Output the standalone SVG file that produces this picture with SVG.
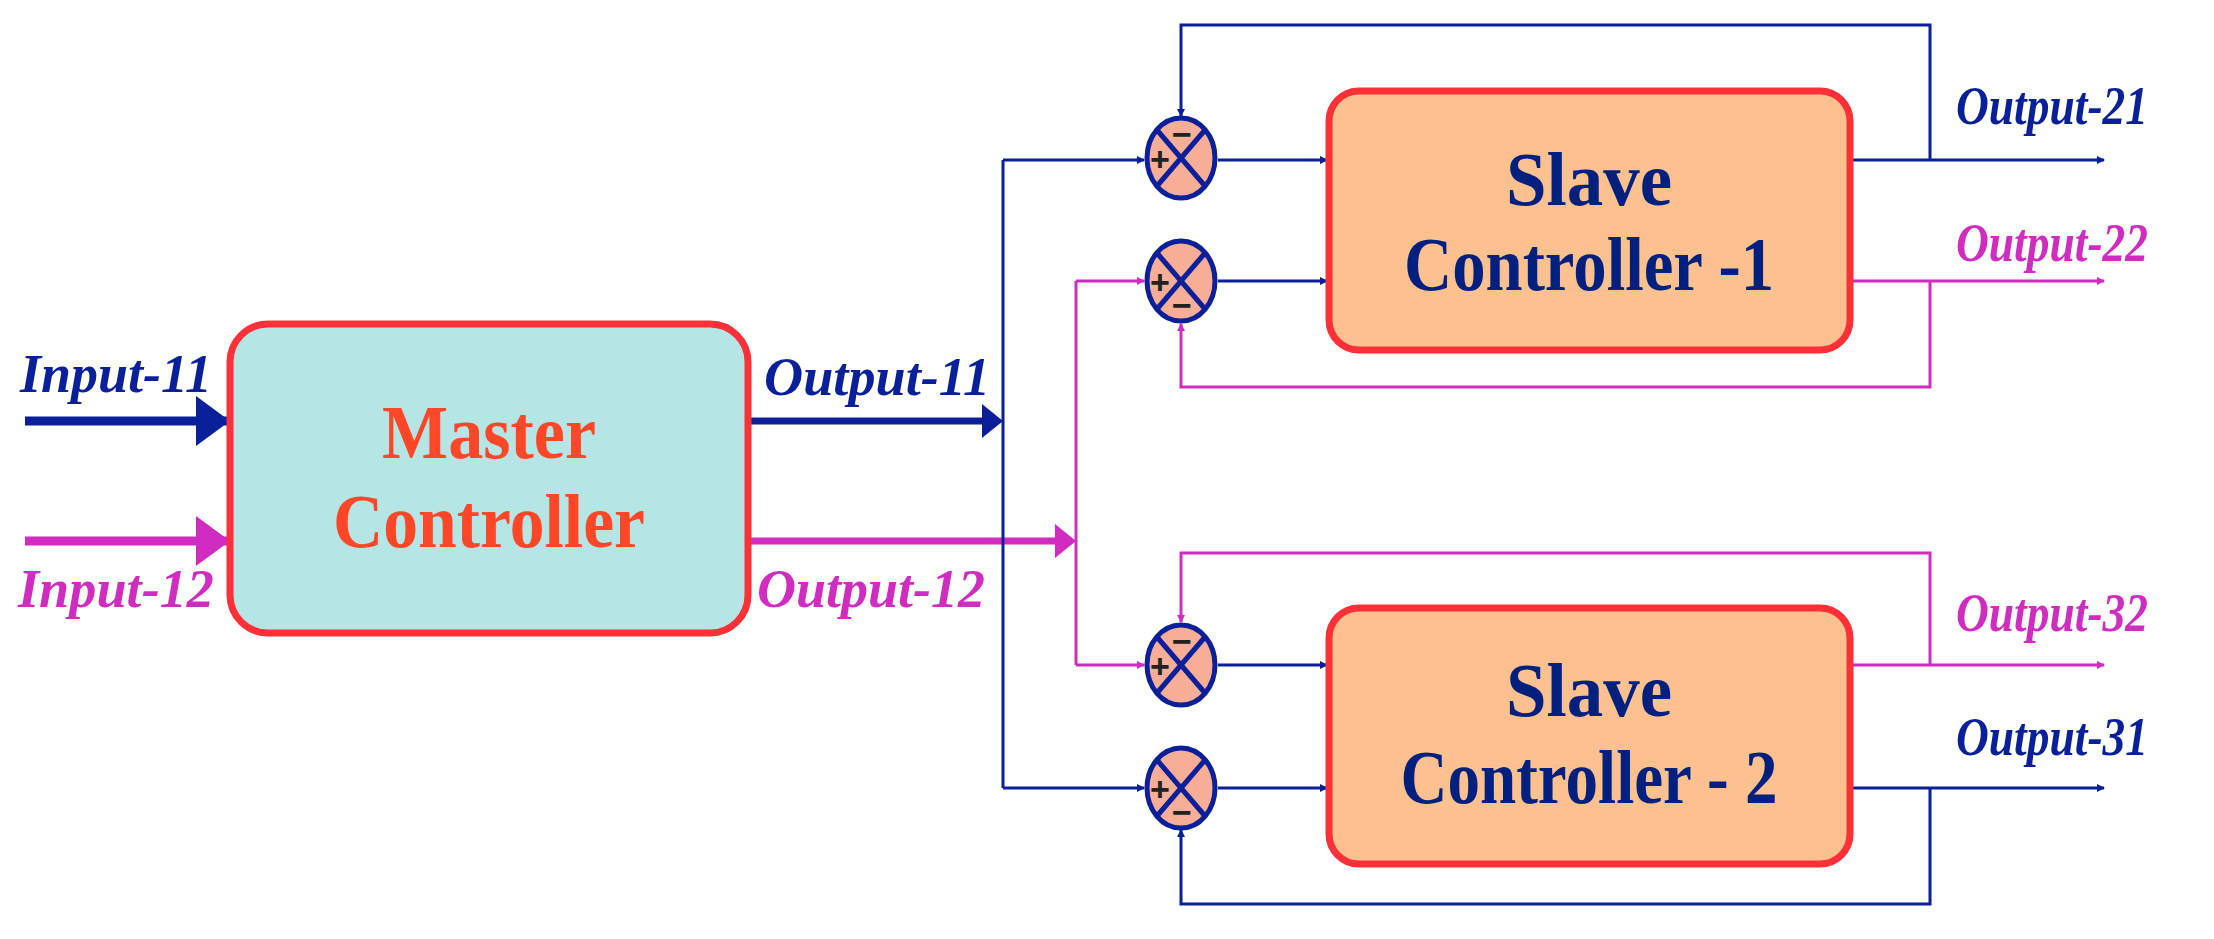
<svg xmlns="http://www.w3.org/2000/svg" width="2214" height="939" viewBox="0 0 2214 939">
<defs>
<style>
.b{stroke:#0a1f9a;fill:none;stroke-width:3}
.m{stroke:#d02cc0;fill:none;stroke-width:3}
.lab{font-family:"Liberation Serif",serif;font-style:italic;font-weight:bold;font-size:54px}
.box{stroke:#ff3038;stroke-width:7}
.big{font-family:"Liberation Serif",serif;font-weight:bold;font-size:76px;text-anchor:middle}
.sum{fill:#f8ad96;stroke:#0a1f9a;stroke-width:5}
.sx{stroke:#0a1f9a;stroke-width:5}
.sg{font-family:"Liberation Sans",sans-serif;font-weight:bold;font-size:34px;fill:#222;text-anchor:middle}
</style>
<marker id="ab" markerWidth="8" markerHeight="8" refX="7" refY="4" orient="auto" markerUnits="userSpaceOnUse" viewBox="0 0 8 8"><path d="M0,0L8,4L0,8z" fill="#0a1f9a"/></marker>
<marker id="am" markerWidth="8" markerHeight="8" refX="7" refY="4" orient="auto" markerUnits="userSpaceOnUse" viewBox="0 0 8 8"><path d="M0,0L8,4L0,8z" fill="#d02cc0"/></marker>
</defs>
<g id="connectors">
<path d="M25,421H228" stroke="#0a1f9a" stroke-width="9"/><path d="M196,396L230,421L196,446z" fill="#0a1f9a"/>
<path d="M25,541H228" stroke="#d02cc0" stroke-width="9"/><path d="M196,516L230,541L196,566z" fill="#d02cc0"/>
<path d="M750,421H985" stroke="#0a1f9a" stroke-width="7"/><path d="M982,404L1003,421L982,438z" fill="#0a1f9a"/>
<path d="M750,541H1058" stroke="#d02cc0" stroke-width="7"/><path d="M1055,524L1076,541L1055,558z" fill="#d02cc0"/>
<path class="b" d="M1003,160V788"/>
<path class="b" d="M1003,160H1144" marker-end="url(#ab)" style="marker-end:url(#ab)"/>
<path class="b" d="M1003,788H1144" style="marker-end:url(#ab)"/>
<path class="m" d="M1076,281V665"/>
<path class="m" d="M1076,281H1144" style="marker-end:url(#am)"/>
<path class="m" d="M1076,665H1144" style="marker-end:url(#am)"/>
<path class="b" d="M1218,160H1327" style="marker-end:url(#ab)"/>
<path class="b" d="M1218,281H1327" style="marker-end:url(#ab)"/>
<path class="b" d="M1218,665H1327" style="marker-end:url(#ab)"/>
<path class="b" d="M1218,788H1327" style="marker-end:url(#ab)"/>
<path class="b" d="M1853,160H2104" style="marker-end:url(#ab)"/>
<path class="b" d="M1930,160V25H1181V116" style="marker-end:url(#ab)"/>
<path class="m" d="M1853,281H2104" style="marker-end:url(#am)"/>
<path class="m" d="M1930,281V387H1181V324" style="marker-end:url(#am)"/>
<path class="m" d="M1853,665H2104" style="marker-end:url(#am)"/>
<path class="m" d="M1930,665V553H1181V622" style="marker-end:url(#am)"/>
<path class="b" d="M1853,788H2104" style="marker-end:url(#ab)"/>
<path class="b" d="M1930,788V904H1181V830" style="marker-end:url(#ab)"/>
</g>
<g id="master">
<rect class="box" x="230" y="324" width="518" height="309" rx="38" fill="#b5e5e5"/>
<text class="big" x="489" y="458" fill="#ff4626" textLength="214" lengthAdjust="spacingAndGlyphs">Master</text>
<text class="big" x="489" y="547" fill="#ff4626" textLength="312" lengthAdjust="spacingAndGlyphs">Controller</text>
</g>
<g id="slave1">
<rect class="box" x="1329" y="91" width="521" height="259" rx="30" fill="#fdc190"/>
<text class="big" x="1589" y="205" fill="#00207f" textLength="166" lengthAdjust="spacingAndGlyphs">Slave</text>
<text class="big" x="1589" y="290" fill="#00207f" textLength="370" lengthAdjust="spacingAndGlyphs">Controller -1</text>
</g>
<g id="slave2">
<rect class="box" x="1329" y="608" width="521" height="256" rx="30" fill="#fdc190"/>
<text class="big" x="1589" y="716" fill="#00207f" textLength="166" lengthAdjust="spacingAndGlyphs">Slave</text>
<text class="big" x="1589" y="803" fill="#00207f" textLength="377" lengthAdjust="spacingAndGlyphs">Controller - 2</text>
</g>
<g id="sum1"><ellipse class="sum" cx="1181" cy="158" rx="34" ry="40"/><path class="sx" d="M1157,130L1205,186M1205,130L1157,186"/><text class="sg" x="1160" y="171">+</text><text class="sg" x="1182" y="146">−</text></g>
<g id="sum2"><ellipse class="sum" cx="1181" cy="281" rx="34" ry="40"/><path class="sx" d="M1157,253L1205,309M1205,253L1157,309"/><text class="sg" x="1160" y="294">+</text><text class="sg" x="1182" y="317">−</text></g>
<g id="sum3"><ellipse class="sum" cx="1181" cy="665" rx="34" ry="40"/><path class="sx" d="M1157,637L1205,693M1205,637L1157,693"/><text class="sg" x="1160" y="678">+</text><text class="sg" x="1182" y="653">−</text></g>
<g id="sum4"><ellipse class="sum" cx="1181" cy="788" rx="34" ry="40"/><path class="sx" d="M1157,760L1205,816M1205,760L1157,816"/><text class="sg" x="1160" y="801">+</text><text class="sg" x="1182" y="824">−</text></g>
<g id="labels">
<text class="lab" x="20" y="392" fill="#0a1f9a" textLength="192" lengthAdjust="spacingAndGlyphs">Input-11</text>
<text class="lab" x="18" y="607" fill="#d02cc0" textLength="196" lengthAdjust="spacingAndGlyphs">Input-12</text>
<text class="lab" x="764" y="395" fill="#0a1f9a" textLength="226" lengthAdjust="spacingAndGlyphs">Output-11</text>
<text class="lab" x="757" y="607" fill="#d02cc0" textLength="228" lengthAdjust="spacingAndGlyphs">Output-12</text>
<text class="lab" x="1956" y="124" fill="#0a1f9a" textLength="192" lengthAdjust="spacingAndGlyphs">Output-21</text>
<text class="lab" x="1956" y="261" fill="#d02cc0" textLength="192" lengthAdjust="spacingAndGlyphs">Output-22</text>
<text class="lab" x="1956" y="631" fill="#d02cc0" textLength="192" lengthAdjust="spacingAndGlyphs">Output-32</text>
<text class="lab" x="1956" y="755" fill="#0a1f9a" textLength="192" lengthAdjust="spacingAndGlyphs">Output-31</text>
</g>
</svg>
